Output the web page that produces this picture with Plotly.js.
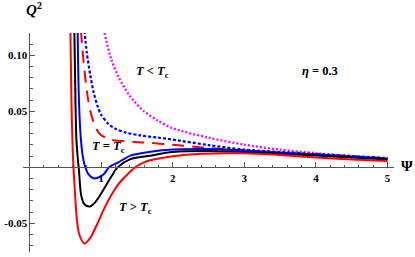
<!DOCTYPE html>
<html>
<head>
<meta charset="utf-8">
<script src="https://cdn.plot.ly/plotly-3.0.1.min.js"></script>
<style>html,body{margin:0;padding:0;background:#fff;}#chart{width:415px;height:257px;}</style>
</head>
<body>
<div id="chart"></div>
<script>
// T > Tc (red solid)
const psiHot = [0.572, 0.586, 0.604, 0.621, 0.642, 0.663, 0.698, 0.768, 0.85, 0.95, 1.05, 1.15, 1.22, 1.29, 1.36, 1.43, 1.5, 1.6, 1.7, 2.0, 2.4, 3.0, 3.5, 4.0, 4.5, 5.0];
const q2Hot  = [0.122, 0.0601, 0.0154, -0.0069, -0.0291, -0.047, -0.0604, -0.068, -0.063, -0.050, -0.036, -0.024, -0.017, -0.0113, -0.0069, -0.0024, 0.0012, 0.0045, 0.0065, 0.010, 0.0122, 0.0125, 0.011, 0.0088, 0.007, 0.0056];
// intermediate (black solid)
const psiMid = [0.627, 0.642, 0.656, 0.677, 0.691, 0.722, 0.768, 0.842, 0.92, 1.0, 1.08, 1.15, 1.23, 1.41, 1.69, 2.0, 2.5, 3.0, 4.0, 5.0];
const q2Mid  = [0.122, 0.060, 0.0244, 0.0065, -0.0024, -0.0249, -0.033, -0.035, -0.031, -0.0235, -0.015, -0.0075, 0.0, 0.0074, 0.0104, 0.0137, 0.0146, 0.0137, 0.0105, 0.007];
// near critical (blue solid)
const psiNear = [0.673, 0.691, 0.719, 0.754, 0.782, 0.823, 0.897, 0.963, 1.037, 1.11, 1.242, 1.41, 1.69, 2.0, 2.5, 3.0, 4.0, 5.0];
const q2Near  = [0.122, 0.060, 0.0244, 0.0065, 0.0, -0.006, -0.0098, -0.0091, -0.0062, 0.0, 0.0045, 0.0105, 0.0139, 0.0159, 0.0163, 0.015, 0.0114, 0.0079];
// T = Tc (red dashed)
const psiCrit = [0.719, 0.758, 0.814, 0.865, 0.921, 0.991, 1.103, 1.242, 1.438, 1.69, 2.0, 2.5, 3.0, 4.0, 5.0];
const q2Crit  = [0.122, 0.093, 0.0628, 0.0467, 0.036, 0.0293, 0.0253, 0.0237, 0.0228, 0.0218, 0.0202, 0.0172, 0.015, 0.011, 0.0079];
// T < Tc (blue dotted)
const psiCool = [0.769, 0.80, 0.85, 0.90, 0.95, 1.0, 1.1, 1.2, 1.35, 1.55, 1.8, 2.0, 2.5, 3.0, 4.0, 5.0];
const q2Cool  = [0.122, 0.103, 0.082, 0.066, 0.055, 0.047, 0.039, 0.0345, 0.031, 0.0285, 0.0265, 0.0248, 0.0199, 0.0159, 0.0119, 0.0083];
// T < Tc (magenta dotted)
const psiCold = [1.047, 1.14, 1.25, 1.4, 1.6, 1.8, 2.0, 2.5, 3.0, 3.5, 4.0, 4.5, 5.0];
const q2Cold  = [0.120, 0.097, 0.080, 0.064, 0.050, 0.0415, 0.035, 0.0265, 0.0203, 0.0158, 0.0127, 0.0100, 0.0080];

const xTicks = [1, 2, 3, 4, 5];
const xTickText = ['1', '2', '3', '4', '5'];
const yTicks = [-0.05, 0.05, 0.10];
const yTickText = ['-0.05', '0.05', '0.10'];

const xRange = [-0.09, 5.09];
const yRange = [-0.0756, 0.12];

function tr(x, y, color, dash, width) {
  return {x: x, y: y, type: 'scatter', mode: 'lines',
    line: {color: color, dash: dash, width: width, shape: 'spline', smoothing: 0.8},
    hoverinfo: 'skip', showlegend: false, cliponaxis: true};
}
const data = [
  tr(psiCold, q2Cold, '#ff00ff', '2px,2px', 2.3),
  tr(psiCool, q2Cool, '#0000ff', '3px,2px', 2.2),
  tr(psiCrit, q2Crit, '#ff0000', '12px,8px', 2),
  tr(psiNear, q2Near, '#0000ff', 'solid', 2),
  tr(psiMid, q2Mid, '#000000', 'solid', 2),
  tr(psiHot, q2Hot, '#ff0000', 'solid', 2)
];

const serif = 'Liberation Serif, Times New Roman, serif';
const axCol = '#555';
const layout = {
  width: 415, height: 257,
  margin: {l: 22.5, r: 21, t: 33, b: 5, pad: 0},
  paper_bgcolor: '#fff', plot_bgcolor: '#fff',
  showlegend: false,
  xaxis: {
    range: xRange, anchor: 'free',
    position: (0 - yRange[0]) / (yRange[1] - yRange[0]),
    showgrid: false, zeroline: false, showline: true, linecolor: axCol, linewidth: 1,
    tickmode: 'array', tickvals: xTicks, ticktext: xTickText,
    ticks: 'inside', ticklen: 5, tickcolor: axCol, tickwidth: 1,
    tickfont: {family: serif, size: 11, color: '#000', weight: 'bold'},
    minor: {dtick: 0.2, tick0: 0, ticks: 'inside', ticklen: 2.5, tickcolor: axCol, showgrid: false}
  },
  yaxis: {
    range: yRange, anchor: 'free',
    position: (0 - xRange[0]) / (xRange[1] - xRange[0]),
    showgrid: false, zeroline: false, showline: true, linecolor: axCol, linewidth: 1,
    tickmode: 'array', tickvals: yTicks, ticktext: yTickText,
    ticks: 'inside', ticklen: 5, tickcolor: axCol, tickwidth: 1,
    tickfont: {family: serif, size: 11, color: '#000', weight: 'bold'},
    minor: {dtick: 0.01, tick0: 0, ticks: 'inside', ticklen: 2.5, tickcolor: axCol, showgrid: false}
  },
  annotations: [
    {text: '<b><i>Q</i><sup>2</sup></b>', xref: 'paper', yref: 'paper', x: 0.0, y: 1, xshift: 1, yshift: 24, xanchor: 'left', yanchor: 'middle', showarrow: false, font: {family: serif, size: 15, color: '#000'}},
    {text: '<b>Ψ</b>', xref: 'paper', yref: 'y', x: 1, y: 0, xshift: 13, yshift: 1, xanchor: 'center', yanchor: 'middle', showarrow: false, font: {family: serif, size: 15, color: '#000'}},
    {text: '<b><i>T</i> &lt; <i>T</i><sub>c</sub></b>', xref: 'x', yref: 'y', x: 1.72, y: 0.085, showarrow: false, font: {family: serif, size: 12.5, color: '#000'}},
    {text: '<b><i>η</i> = 0.3</b>', xref: 'x', yref: 'y', x: 4.06, y: 0.086, showarrow: false, font: {family: serif, size: 12.5, color: '#000'}},
    {text: '<b><i>T</i> = <i>T</i><sub>c</sub></b>', xref: 'x', yref: 'y', x: 1.10, y: 0.018, showarrow: false, font: {family: serif, size: 12.5, color: '#000'}},
    {text: '<b><i>T</i> &gt; <i>T</i><sub>c</sub></b>', xref: 'x', yref: 'y', x: 1.48, y: -0.0365, showarrow: false, font: {family: serif, size: 12.5, color: '#000'}}
  ]
};
Plotly.newPlot('chart', data, layout, {staticPlot: true, displayModeBar: false});
</script>
</body>
</html>
